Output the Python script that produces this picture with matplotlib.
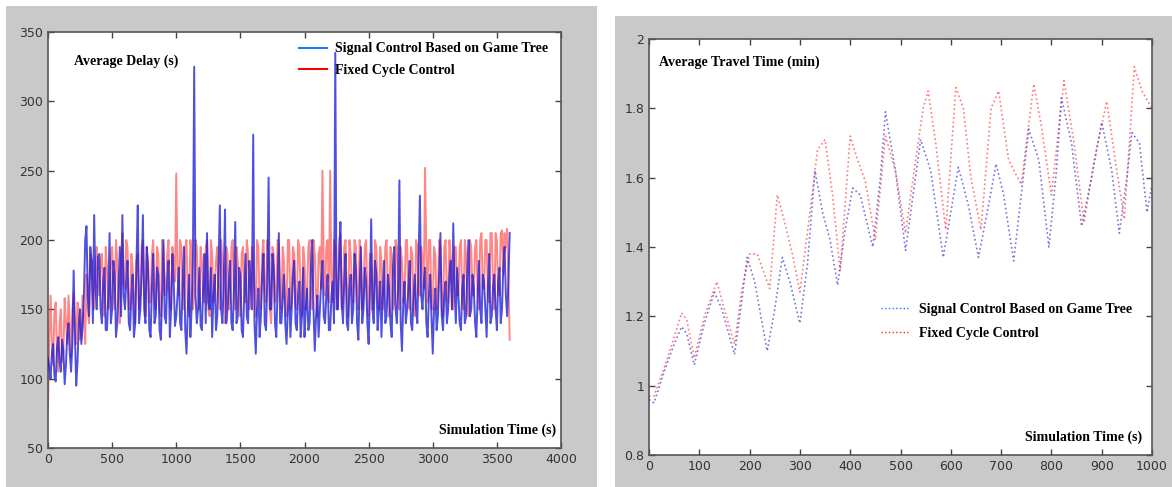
import numpy as np
import matplotlib
matplotlib.use("Agg")
import matplotlib.pyplot as plt
from matplotlib.patches import Rectangle

# left chart: average delay, sampled every 10 s
# values at t = 0, 20, 40, ... and at t = 10, 30, 50, ... kept apart
delay_time = np.arange(0, 3601, 10)
gt_even = [
    115, 100, 125, 98, 130, 105, 120, 110, 140, 105,
    178, 95, 140, 125, 160, 210, 145, 185, 218, 150,
    190, 140, 180, 135, 205, 150, 175, 140, 195, 218,
    150, 185, 135, 175, 140, 225, 150, 218, 140, 180,
    130, 190, 145, 175, 128, 200, 140, 185, 150, 170,
    145, 180, 135, 195, 118, 175, 150, 325, 140, 180,
    135, 190, 205, 150, 130, 175, 145, 225, 140, 222,
    150, 185, 135, 213, 145, 175, 130, 190, 140, 170,
    276, 118, 165, 145, 190, 135, 245, 150, 180, 130,
    205, 140, 175, 125, 165, 150, 185, 135, 170, 145,
    130, 165, 140, 200, 120, 160, 150, 185, 140, 175,
    135, 170, 335, 150, 213, 140, 190, 135, 175, 150,
    180, 128, 195, 150, 170, 125, 215, 140, 175, 150,
    130, 185, 145, 165, 130, 195, 140, 243, 120, 170,
    150, 185, 135, 175, 140, 232, 150, 180, 130, 175,
    118, 165, 145, 205, 135, 170, 150, 185, 212, 140,
    160, 135, 175, 145, 200, 150, 165, 130, 185, 140,
    170, 130, 190, 145, 175, 135, 180, 150, 195, 145,
    205,
]
gt_odd = [
    108, 118, 102, 122, 112, 128, 96, 132, 118, 125,
    130, 112, 150, 138, 200, 160, 195, 140, 165, 188,
    150, 170, 135, 160, 140, 185, 130, 165, 145, 160,
    170, 140, 160, 130, 185, 140, 175, 150, 195, 135,
    165, 140, 180, 135, 160, 145, 172, 130, 190, 138,
    160, 140, 170, 135, 150, 130, 185, 160, 150, 138,
    165, 140, 155, 180, 160, 135, 185, 150, 170, 140,
    170, 140, 165, 140, 180, 135, 160, 145, 185, 150,
    140, 150, 130, 175, 140, 170, 150, 190, 140, 165,
    140, 160, 140, 150, 130, 175, 140, 160, 130, 180,
    150, 135, 180, 150, 145, 130, 170, 145, 160, 135,
    160, 140, 150, 185, 155, 170, 140, 165, 140, 190,
    140, 165, 140, 180, 140, 160, 150, 185, 135, 170,
    160, 140, 175, 140, 180, 150, 165, 140, 155, 140,
    165, 140, 160, 150, 190, 160, 170, 140, 160, 145,
    150, 135, 175, 145, 160, 140, 175, 150, 165, 180,
    140, 165, 140, 180, 145, 175, 140, 160, 150, 175,
    150, 165, 140, 165, 150, 170, 140, 180, 160, 170,
]
fixed_even = [
    78, 160, 110, 155, 105, 150, 120, 140, 160, 115,
    162, 125, 150, 130, 145, 175, 140, 185, 150, 195,
    160, 190, 145, 180, 155, 195, 150, 185, 140, 205,
    165, 195, 150, 180, 140, 190, 160, 200, 145, 185,
    155, 200, 150, 190, 145, 195, 165, 200, 150, 185,
    248, 160, 195, 150, 200, 145, 190, 160, 195, 150,
    185, 155, 200, 145, 190, 165, 195, 150, 185, 140,
    190, 160, 200, 150, 185, 145, 195, 155, 190, 160,
    180, 145, 195, 150, 200, 155, 185, 140, 190, 160,
    195, 150, 185, 145, 200, 160, 190, 150, 195, 145,
    185, 160, 200, 150, 190, 145, 195, 250, 160, 200,
    250, 155, 195, 150, 205, 160, 200, 145, 190, 155,
    195, 150, 185, 160, 200, 145, 190, 155, 195, 150,
    185, 160, 200, 145, 190, 155, 195, 150, 185, 160,
    200, 150, 190, 145, 195, 160, 185, 252, 155, 200,
    150, 190, 160, 195, 145, 200, 155, 185, 150, 195,
    160, 200, 150, 190, 145, 195, 160, 200, 150, 205,
    165, 200, 155, 205, 150, 200, 160, 207, 205, 208,
    128,
]
fixed_odd = [
    130, 125, 148, 118, 140, 112, 158, 125, 138, 150,
    140, 155, 128, 160, 125, 150, 190, 160, 180, 165,
    185, 160, 195, 150, 185, 165, 200, 155, 190, 170,
    200, 150, 190, 160, 185, 150, 195, 165, 195, 155,
    190, 165, 195, 150, 200, 160, 190, 155, 195, 170,
    175, 200, 160, 195, 155, 200, 150, 200, 165, 195,
    160, 195, 150, 200, 155, 185, 160, 200, 165, 195,
    150, 195, 160, 195, 160, 190, 165, 200, 150, 195,
    160, 200, 155, 190, 165, 200, 150, 195, 155, 200,
    160, 195, 155, 200, 150, 195, 155, 200, 160, 195,
    150, 195, 155, 200, 160, 190, 165, 180, 195, 155,
    170, 200, 160, 200, 150, 195, 160, 200, 165, 200,
    160, 200, 150, 195, 160, 190, 150, 200, 160, 195,
    150, 195, 160, 195, 150, 200, 160, 195, 155, 200,
    155, 195, 150, 200, 160, 195, 165, 190, 200, 150,
    195, 150, 200, 150, 195, 160, 200, 150, 195, 160,
    195, 155, 200, 150, 200, 160, 195, 160, 200, 165,
    200, 160, 205, 165, 205, 160, 205, 175, 195, 170,
]


def merge(even, odd):
    out = np.empty(len(even) + len(odd))
    out[0::2] = even
    out[1::2] = odd
    return out


delay_game_tree = merge(gt_even, gt_odd)
delay_fixed = merge(fixed_even, fixed_odd)

# right chart: average travel time, peaks and troughs
travel_time_gt = [0, 10, 30, 50, 65, 75, 90, 110, 130, 145, 170, 185, 195, 210,
                  235, 250, 265, 280, 300, 315, 330, 345, 360, 375, 390, 405,
                  420, 445, 460, 470, 490, 510, 525, 540, 560, 585, 600, 615,
                  635, 655, 675, 690, 705, 725, 740, 755, 775, 795, 810, 820,
                  840, 860, 880, 900, 920, 935, 950, 960, 975, 990, 1000]
travel_game_tree = [0.96, 0.95, 1.04, 1.12, 1.17, 1.15, 1.06, 1.18, 1.27, 1.22,
                    1.09, 1.25, 1.37, 1.30, 1.10, 1.22, 1.37, 1.30, 1.18, 1.35,
                    1.62, 1.50, 1.42, 1.29, 1.45, 1.57, 1.55, 1.40, 1.60, 1.79,
                    1.62, 1.39, 1.55, 1.71, 1.62, 1.37, 1.50, 1.63, 1.52, 1.37,
                    1.52, 1.64, 1.55, 1.36, 1.55, 1.74, 1.65, 1.40, 1.62, 1.83,
                    1.70, 1.46, 1.60, 1.76, 1.62, 1.44, 1.60, 1.73, 1.70, 1.50,
                    1.58]
travel_time_fx = [0, 10, 30, 50, 65, 75, 90, 110, 135, 150, 170, 185, 200, 215,
                  240, 255, 270, 285, 300, 320, 335, 350, 365, 380, 400, 415,
                  430, 450, 470, 490, 510, 530, 545, 555, 570, 590, 610, 625,
                  640, 660, 680, 695, 715, 740, 765, 780, 800, 825, 845, 865,
                  885, 910, 930, 945, 965, 980, 1000]
travel_fixed = [0.97, 0.97, 1.05, 1.14, 1.21, 1.19, 1.08, 1.20, 1.30, 1.22,
                1.12, 1.28, 1.38, 1.38, 1.28, 1.55, 1.47, 1.38, 1.27, 1.50,
                1.68, 1.71, 1.55, 1.33, 1.72, 1.65, 1.59, 1.42, 1.72, 1.62,
                1.44, 1.65, 1.80, 1.85, 1.70, 1.45, 1.86, 1.80, 1.60, 1.45,
                1.80, 1.85, 1.65, 1.58, 1.87, 1.75, 1.55, 1.88, 1.70, 1.47,
                1.65, 1.82, 1.62, 1.48, 1.92, 1.85, 1.80]

W, H = 1172, 487
fig = plt.figure(figsize=(W / 100, H / 100), dpi=100, facecolor="white")

# grey panels behind each plot
fig.patches.append(Rectangle((6 / W, 0), 591 / W, 481 / H, transform=fig.transFigure,
                             facecolor="#c9c9c9", edgecolor="none", zorder=-10))
fig.patches.append(Rectangle((615 / W, 0), 557 / W, 471 / H, transform=fig.transFigure,
                             facecolor="#c9c9c9", edgecolor="none", zorder=-10))

serif = dict(family="Liberation Serif", weight="bold", size=10)


def style(ax):
    ax.set_facecolor("white")
    ax.tick_params(direction="in", top=True, right=True, length=4, width=1,
                   color="#444444", labelsize=9, labelcolor="#333333")
    for s in ax.spines.values():
        s.set_color("#555555")
        s.set_linewidth(1.2)


ax1 = fig.add_axes([48 / W, 1 - 448 / H, 513 / W, 416 / H])
style(ax1)
ax1.plot(delay_time, delay_fixed, color="#ff3535", lw=1.4, alpha=0.6, zorder=2)
ax1.plot(delay_time, delay_game_tree, color="#1515d5", lw=1.4, alpha=0.75, zorder=3)
ax1.set_xlim(0, 4000)
ax1.set_ylim(50, 350)
ax1.set_xticks(range(0, 4001, 500))
ax1.set_yticks(range(50, 351, 50))
ax1.text(0.05, 0.92, "Average Delay (s)", transform=ax1.transAxes, **serif)
ax1.text(0.99, 0.035, "Simulation Time (s)", transform=ax1.transAxes, ha="right", **serif)
h1 = [plt.Line2D([], [], color="#1e78ff", lw=1.5),
      plt.Line2D([], [], color="#ff0000", lw=1.5)]
ax1.legend(h1, ["Signal Control Based on Game Tree", "Fixed Cycle Control"],
           loc="upper right", bbox_to_anchor=(1.0, 1.005), frameon=False,
           prop=serif, handlelength=2.0, handletextpad=0.6, labelspacing=0.6)

ax2 = fig.add_axes([649 / W, 1 - 455 / H, 503 / W, 416 / H])
style(ax2)
ax2.plot(travel_time_fx, travel_fixed, color="#ff4040", lw=1.2, ls=":",
         alpha=0.7, zorder=2)
ax2.plot(travel_time_gt, travel_game_tree, color="#3a3ad0", lw=1.2, ls=":",
         alpha=0.7, zorder=3)
ax2.set_xlim(0, 1000)
ax2.set_ylim(0.8, 2)
ax2.set_xticks(range(0, 1001, 100))
ax2.set_yticks([0.8, 1, 1.2, 1.4, 1.6, 1.8, 2])
ax2.set_yticklabels(["0.8", "1", "1.2", "1.4", "1.6", "1.8", "2"])
ax2.text(0.02, 0.935, "Average Travel Time (min)", transform=ax2.transAxes, **serif)
ax2.text(0.98, 0.035, "Simulation Time (s)", transform=ax2.transAxes, ha="right", **serif)
h2 = [plt.Line2D([], [], color="#1e78ff", lw=1.0, ls=":"),
      plt.Line2D([], [], color="#ff2020", lw=1.0, ls=":")]
ax2.legend(h2, ["Signal Control Based on Game Tree", "Fixed Cycle Control"],
           loc="upper right", bbox_to_anchor=(0.985, 0.395), frameon=False,
           prop=serif, handlelength=2.0, handletextpad=0.7, labelspacing=0.75)

fig.savefig("out.png", dpi=100, facecolor="white")
